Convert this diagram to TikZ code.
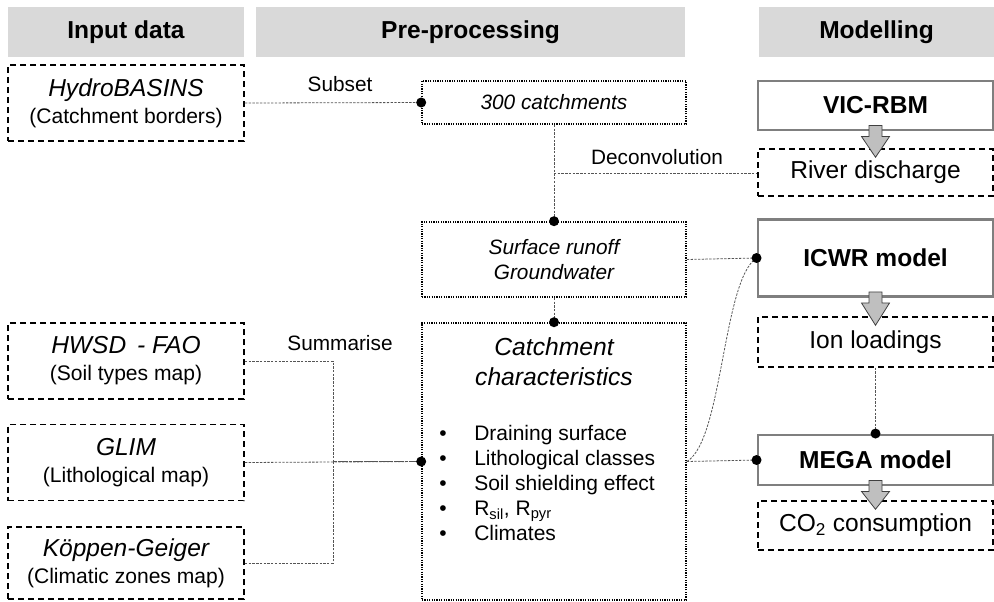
\documentclass[tikz,border=0pt]{standalone}
\usepackage{fontspec}
\setmainfont{Liberation Sans}
\usetikzlibrary{calc}
\definecolor{hdrgray}{HTML}{D9D9D9}
\definecolor{boxgray}{HTML}{7F7F7F}
\definecolor{arrgray}{HTML}{BFBFBF}
\definecolor{linkgray}{HTML}{555555}
\newcommand{\px}{0.75pt}
\newcommand{\bigit}{\fontsize{18.4}{20.25}\selectfont\itshape}
\newcommand{\midrm}{\fontsize{15.8}{20.25}\selectfont}
\newcommand{\bul}{\makebox[26.25pt][l]{\textbullet}}

\begin{document}
\begin{tikzpicture}[x=0.75pt, y=-0.75pt,
  hdr/.style={fill=hdrgray, inner sep=0pt, minimum height=50*\px, font=\fontsize{18.4}{22}\selectfont\bfseries},
  inbox/.style={draw, line width=1.4pt, dash pattern=on 4.5pt off 3pt, minimum width=236*\px,
    minimum height=76*\px, inner sep=0pt, align=center, font=\midrm},
  prebox/.style={draw, line width=1.2pt, dash pattern=on 0.9pt off 0.9pt, minimum width=264*\px,
    inner sep=0pt, align=center, font=\fontsize{15.6}{18.75}\selectfont\itshape},
  model/.style={draw=boxgray, line width=2.2pt, minimum width=235*\px, inner sep=0pt,
    font=\fontsize{18.4}{22}\selectfont\bfseries},
  outbox/.style={draw, line width=1.1pt, dash pattern=on 4.5pt off 3pt, minimum width=235*\px,
    inner sep=0pt, font=\fontsize{18.4}{22}\selectfont},
  link/.style={draw=linkgray, line width=0.6pt, dash pattern=on 1.8pt off 1pt},
  lbl/.style={inner sep=0pt, font=\fontsize{15.6}{18}\selectfont},
  blk/.style={fill=arrgray, draw=black!75, line width=0.6pt, line join=miter}]
\useasboundingbox (0,0) rectangle (994,601);

\node[hdr, minimum width=236*\px] (hin) at (126,32) {Input data};
\node[hdr, minimum width=429*\px] (hpre) at (470.5,32) {Pre-processing};
\node[hdr, minimum width=235*\px] (hmod) at (876.5,32) {Modelling};

\node[inbox] (hydro) at (126,103) {{\bigit HydroBASINS}\\(Catchment borders)};
\node[inbox] (hwsd) at (126,361) {{\bigit HWSD\,\ -\ FAO}\\(Soil types map)};
\node[inbox] (glim) at (126,462.5) {{\bigit GLIM}\\(Lithological map)};
\node[inbox, minimum height=72*\px] (koppen) at (126,563) {{\bigit Köppen-Geiger}\\(Climatic zones map)};

\node[prebox, minimum height=43*\px] (catch300) at (554,102.5) {300 catchments};
\node[prebox, minimum height=75*\px] (runoff) at (554,259.5) {Surface runoff\\Groundwater};
\node[prebox, minimum height=277*\px] (charac) at (554,461.5) {};
\node[align=center, inner sep=0pt, font=\fontsize{18.5}{22.5}\selectfont\itshape] (chartitle) at (554,362)
  {Catchment\\characteristics};
\node[anchor=west, align=left, inner sep=0pt, font=\fontsize{15.75}{18.75}\selectfont] (charlist) at (439,483)
  {\bul Draining surface\\
   \bul Lithological classes\\
   \bul Soil shielding effect\\
   \bul R\textsubscript{sil}, R\textsubscript{pyr}\\
   \bul Climates};

\node[model, minimum height=49*\px] (vic) at (875.5,105.5) {VIC-RBM};
\node[outbox, minimum height=47*\px] (river) at (875.5,172.5) {River discharge};
\node[model, minimum height=77*\px] (icwr) at (875.5,258) {ICWR model};
\node[outbox, minimum height=50*\px] (ion) at (875.5,342) {Ion loadings};
\node[model, minimum height=50*\px] (mega) at (875.5,460) {MEGA model};
\node[outbox, minimum height=49*\px] (co2) at (875.5,525.5) {CO\textsubscript{2} consumption};

\newcommand{\flow}[2]{\draw[blk] ($(#1.south)+(-6.5,-6)$) -- ($(#1.south)+(6.5,-6)$) -- ($(#1.south)+(6.5,5)$)
  -- ($(#1.south)+(14,5)$) -- ($(#2.north)+(0,9)$) -- ($(#1.south)+(-14,5)$) -- ($(#1.south)+(-6.5,5)$) -- cycle;}
\flow{vic}{river} \flow{icwr}{ion} \flow{mega}{co2}

\node[lbl] (subsetlbl) at (340,84) {Subset};
\node[lbl] (deconvlbl) at (657,157) {Deconvolution};
\node[lbl] (sumlbl) at (340,343) {Summarise};

\coordinate (dec) at ($(catch300.south)!0.5!(runoff.north)$);
\coordinate (sum) at (333,461.5);
\draw[link] (hydro.east) -- (catch300.west);
\draw[link] (catch300.south) -- (runoff.north);
\draw[link] (dec) -- (dec -| river.west);
\draw[link] (runoff.south) -- (charac.north);
\draw[link] (runoff.east) -- (icwr.west);
\draw[link] (charac.east) -- (mega.west);
\draw[link] (charac.east) .. controls +(36,-21) and +(-34,22) .. (icwr.west);
\draw[link] (hwsd.east) -| (sum) -- (charac.west);
\draw[link] (koppen.east) -| (sum) -- (charac.west);
\draw[link] (glim.east) -- (charac.west);
\draw[link] (ion.south) -- (mega.north);

\foreach \p in {catch300.west, runoff.north, charac.north, charac.west, icwr.west, mega.west, mega.north}
  \fill (\p) circle[radius=3.75pt];
\end{tikzpicture}
\end{document}
